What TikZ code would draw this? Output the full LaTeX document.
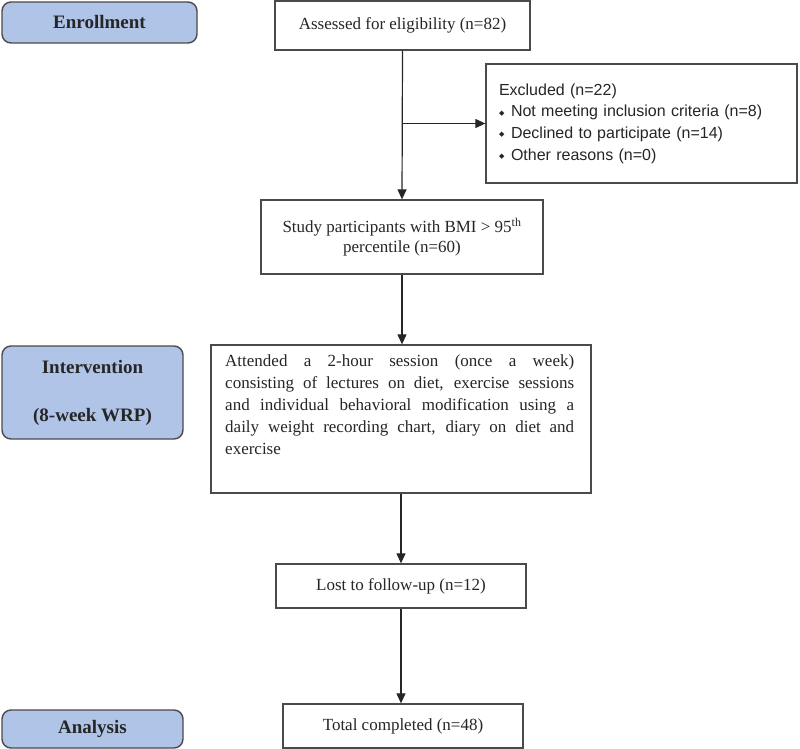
\documentclass[tikz,border=0pt]{standalone}
\usepackage{fontspec}
\setmainfont{Liberation Serif}
\newfontfamily\sansf{Liberation Sans}
\newfontfamily\dejavu{DejaVu Sans}
\usetikzlibrary{arrows.meta}
\definecolor{labelblue}{HTML}{AFC4E6}
\definecolor{edgegray}{HTML}{4A4A4A}
\newcommand{\dmd}{\makebox[12pt][l]{\raisebox{1.5pt}{\dejavu\fontsize{7}{7}\selectfont ◆}}}
\begin{document}
\begin{tikzpicture}[x=1pt,y=-1pt,
  stagebox/.style={draw=edgegray,line width=1.4pt,fill=labelblue,rounded corners=9pt,inner sep=0pt,
    font=\fontsize{19}{22}\selectfont\bfseries,text=black!85},
  flowbox/.style={draw=edgegray,line width=1.3pt,fill=white,inner sep=0pt,
    font=\fontsize{17}{20}\selectfont,text=black!85},
  flowarrow/.style={draw=black!85,line width=1.2pt,-{Triangle[length=10pt,width=9pt]}}]
\useasboundingbox (0,0) rectangle (800,749);
% stage labels
\node[stagebox,minimum width=195pt,minimum height=41pt] (enr) at (99.5,22.5) {Enrollment};
\node[stagebox,minimum width=181pt,minimum height=93pt,align=center] (int) at (92.5,392.5) {Intervention\\[26pt](8-week WRP)};
\node[stagebox,minimum width=181pt,minimum height=38pt] (ana) at (92.5,729) {Analysis};
% flow boxes
\node[flowbox,minimum width=255pt,minimum height=49pt] (ass) at (402.5,25.5) {Assessed for eligibility (n=82)};
\node[flowbox,minimum width=311pt,minimum height=119pt,text width=285pt,inner xsep=13pt,align=left,
  font=\sansf\fontsize{16}{21.7}\selectfont] (exc) at (641.5,123.5)
  {Excluded (n=22)\\\dmd Not meeting inclusion criteria (n=8)\\\dmd Declined to participate (n=14)\\\dmd Other reasons (n=0)};
\node[flowbox,minimum width=282pt,minimum height=74pt,align=center] (stu) at (402,237)
  {Study participants with BMI > 95\textsuperscript{th}\\percentile (n=60)};
\node[flowbox,minimum width=380pt,minimum height=148pt] (att) at (401,419) {};
\node[anchor=north west,inner sep=0pt,font=\fontsize{17}{21.8}\selectfont,text=black!85] (atttext) at (225,355)
  {\parbox{349pt}{Attended a 2-hour session (once a week) \linebreak consisting of lectures on diet, exercise sessions \linebreak and individual behavioral modification using a \linebreak daily weight recording chart, diary on diet and \linebreak exercise}};
\node[flowbox,minimum width=250pt,minimum height=44pt] (lost) at (401,586) {Lost to follow-up (n=12)};
\node[flowbox,minimum width=240pt,minimum height=44pt] (tot) at (403,726) {Total completed (n=48)};
% connectors
\coordinate (br) at (ass.south |- exc.west);
\draw[flowarrow] (ass.south) -- (stu.north);
\draw[flowarrow] (br) -- (exc.west);
\draw[flowarrow] (stu.south) -- (stu.south |- att.north);
\draw[flowarrow] (att.south -| lost.north) -- (lost.north);
\draw[flowarrow] (lost.south) -- (lost.south |- tot.north);
\end{tikzpicture}
\end{document}
